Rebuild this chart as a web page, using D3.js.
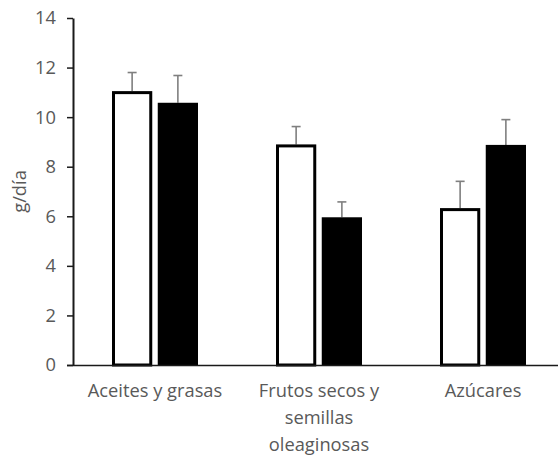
<!DOCTYPE html>
<html>
<head>
<meta charset="utf-8">
<script src="https://cdn.jsdelivr.net/npm/d3@7"></script>
<style>
  html, body { margin: 0; padding: 0; background: #fff; }
  svg { display: block; }
  text { font-family: "Open Sans", "Noto Sans", sans-serif; fill: #595959; }
</style>
</head>
<body>
<svg id="chart" width="558" height="456"></svg>
<script>
// Daily intake (g/día) by food group, two groups compared
const categories = ["Aceites y grasas", "Frutos secos y\nsemillas\noleaginosas", "Azúcares"];
const seriesNames = ["Grupo 1", "Grupo 2"];
const valuesWhite = [11.05, 8.9, 6.33];
const valuesBlack = [10.58, 5.96, 8.88];
const errWhite = [0.75, 0.72, 1.08];
const errBlack = [1.1, 0.62, 1.02];
const yTicks = [0, 2, 4, 6, 8, 10, 12, 14];

const svg = d3.select("#chart");
const mLeft = 73, mRight = 565, mTop = 18, mBottom = 365;
const fontPx = "18.3px";

const x = d3.scaleBand().domain(categories).range([mLeft, mRight]).paddingInner(0).paddingOuter(0);
const x1 = d3.scaleBand().domain(seriesNames).range([x.bandwidth() / 2 - 43, x.bandwidth() / 2 + 43]).paddingInner(0.12);
const y = d3.scaleLinear().domain([0, 14]).range([mBottom, mTop]);

const rows = categories.map((c, i) => [
  { cat: c, s: seriesNames[0], v: valuesWhite[i], e: errWhite[i] },
  { cat: c, s: seriesNames[1], v: valuesBlack[i], e: errBlack[i] }
]).flat();

// Error bars (upper only)
const eb = svg.append("g").attr("stroke", "#7f7f7f").attr("stroke-width", 1.6);
rows.forEach(d => {
  const cx = x(d.cat) + x1(d.s) + x1.bandwidth() / 2;
  eb.append("line").attr("x1", cx).attr("x2", cx).attr("y1", y(d.v)).attr("y2", y(d.v + d.e));
  eb.append("line").attr("x1", cx - 4.5).attr("x2", cx + 4.5).attr("y1", y(d.v + d.e)).attr("y2", y(d.v + d.e));
});

// Bars
svg.append("g").selectAll("rect").data(rows).join("rect")
  .attr("x", d => x(d.cat) + x1(d.s) + (d.s === seriesNames[0] ? 1.5 : 0))
  .attr("width", d => x1.bandwidth() - (d.s === seriesNames[0] ? 3 : 0))
  .attr("y", d => y(d.v) + (d.s === seriesNames[0] ? 1.5 : 0))
  .attr("height", d => mBottom - y(d.v) - (d.s === seriesNames[0] ? 1.5 : 0))
  .attr("fill", d => d.s === seriesNames[0] ? "#fff" : "#000")
  .attr("stroke", "#000")
  .attr("stroke-width", d => d.s === seriesNames[0] ? 3 : 0);

// Y axis
const yAxis = svg.append("g").attr("transform", `translate(${mLeft},0)`)
  .call(d3.axisLeft(y).tickValues(yTicks).tickSize(6).tickPadding(11).tickSizeOuter(0));
yAxis.attr("font-family", null).attr("font-size", null);
yAxis.select(".domain").attr("stroke", "#1a1a1a").attr("stroke-width", 2);
yAxis.selectAll(".tick line").attr("stroke", "#1a1a1a").attr("stroke-width", 1.5);
yAxis.selectAll(".tick text").style("font-size", fontPx).attr("fill", "#595959");

// X axis baseline
const xAxis = svg.append("g").attr("transform", `translate(0,${mBottom})`)
  .call(d3.axisBottom(x).tickSize(0).tickFormat(""));
xAxis.select(".domain").attr("stroke", "#1a1a1a").attr("stroke-width", 1.5).attr("d", `M${mLeft - 6},0.5H558`);

// Category labels (multi-line)
const lab = svg.append("g");
categories.forEach(c => {
  const t = lab.append("text").attr("text-anchor", "middle")
    .attr("x", x(c) + x.bandwidth() / 2).attr("y", 397).style("font-size", fontPx);
  c.split("\n").forEach((line, i) => {
    t.append("tspan").attr("x", x(c) + x.bandwidth() / 2).attr("dy", i === 0 ? 0 : 27).text(line);
  });
});

// Y axis title
svg.append("text").attr("text-anchor", "middle")
  .attr("transform", `translate(26,${(mTop + mBottom) / 2}) rotate(-90)`)
  .style("font-size", fontPx).text("g/día");
</script>
</body>
</html>
